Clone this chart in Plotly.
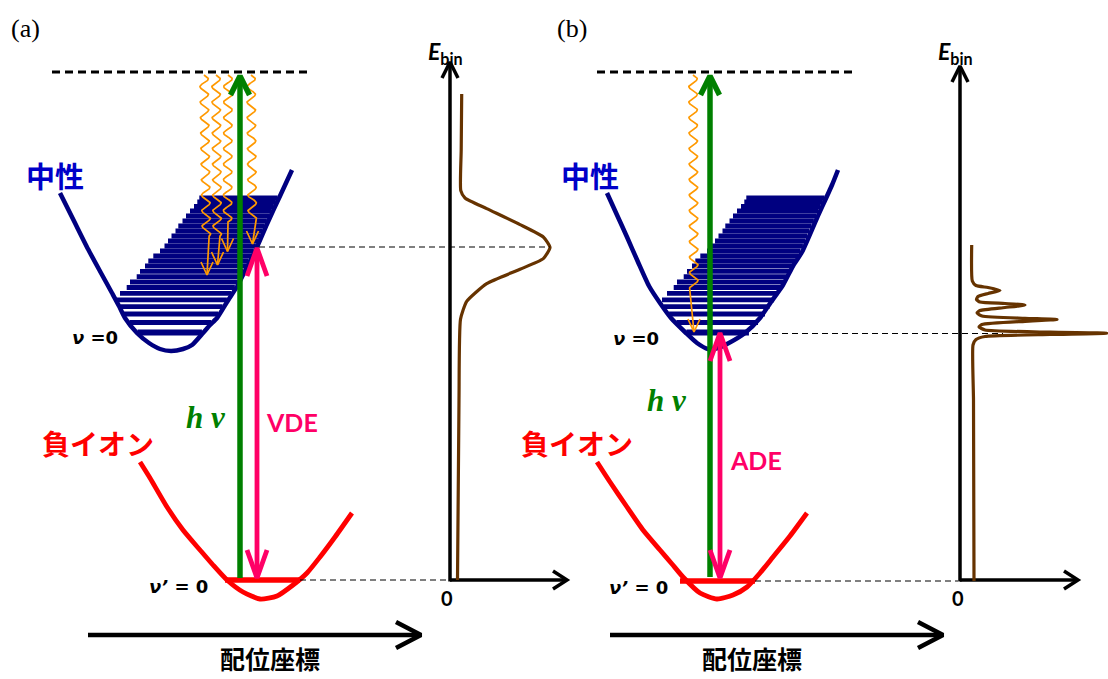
import numpy as np
import plotly.graph_objects as go

W, H = 1108, 679

# ---------------- data (pixel coordinates) ----------------
# Panel (a) neutral potential curve
neutral_a_left_x = [60, 74, 88, 101, 112, 119, 125, 137, 149, 160, 171]
neutral_a_left_y = [193, 221, 249, 273, 293, 306, 318, 333, 343, 349, 351]
neutral_a_right_x = [171, 183, 192, 203, 210, 217, 227, 238, 243, 257, 267, 280, 292]
neutral_a_right_y = [351, 349, 345, 333, 325, 318, 302, 285, 275, 247, 224, 196, 170]
# Panel (b) neutral potential curve
neutral_b_left_x = [607, 617, 627, 638, 649, 660, 671, 686, 697, 708]
neutral_b_left_y = [193, 215, 237, 262, 286, 303, 318, 333, 343, 349]
neutral_b_right_x = [708, 718, 727, 745, 760, 771, 783, 793, 802, 817, 832, 838]
neutral_b_right_y = [349, 348, 344, 333, 318, 302, 285, 266, 252, 218, 185, 170]

# Anion potential curves
anion_a_x = [140, 150, 167, 183, 200, 213, 227, 243, 260, 277, 293, 307, 320, 335, 352]
anion_a_y = [462, 478, 507, 530, 550, 565, 580, 592, 599, 596, 585, 573, 557, 537, 513]
anion_b_x = [597, 610, 627, 643, 660, 672, 683, 700, 717, 733, 747, 760, 773, 790, 807]
anion_b_y = [462, 482, 507, 530, 550, 564, 577, 593, 599, 595, 587, 573, 557, 536, 513]
anion_v0_a = [225, 300, 580]   # x0, x1, y
anion_v0_b = [680, 755, 581]

# Vibrational levels of the neutral (y) and their left edges in panel (a)
level_y = [332.5, 322.5, 314, 306.7, 299.8, 293.3, 287.5, 282, 276.7, 271.3, 266, 261,
           256, 251, 246, 241, 236, 231, 226, 221, 216, 211, 206.5, 202, 198]
level_left_a = [130, 122, 117, 115, 115, 120, 126.7, 130, 136.7, 140, 145, 148.3,
                153.3, 160, 164.5, 168, 171.5, 175.5, 178.3, 182.5, 186, 190, 194, 197.3, 199.3]
level_shift_b = 547

# Photoelectron spectra
spec_a_x = [461.7, 461.2, 460.8, 465, 486.7, 520, 543.3, 550, 543.3, 520, 486.7, 466.7, 460.5, 459, 457.5]
spec_a_y = [94, 150, 190.7, 198, 208.6, 224.6, 237, 247.5, 258.6, 269.3, 283.6, 301.4, 319.3, 400, 580]
spec_b_x = [971.7, 972.3, 976, 988, 1000, 988, 978, 976.5, 980, 1005, 1025, 1005, 980, 977, 982,
            1025, 1057, 1025, 982, 979, 985, 1050, 1107, 1050, 985, 976, 973, 973.5, 974]
spec_b_y = [245, 281, 285.5, 287.5, 290.5, 293.5, 296.5, 299.5, 302, 303.5, 305, 307.5, 310.5, 313, 316,
            318.3, 319.5, 321.3, 324.5, 327, 330, 332.2, 333.2, 334.5, 336.5, 339.5, 345, 400, 581]

# Vertical transitions (x, bottom y, top y)
green_a = [240, 578, 76]
pink_a = [257, 578, 248]
green_b = [710, 577, 76]
pink_b = [720, 578, 333]

# Relaxation (wavy) arrows: start x, tip x, end of wave y, tip y
relax_a_x0 = [204, 216, 228, 251]
relax_a_x1 = [207, 217.5, 227.5, 252.5]
relax_a_wave_end = [236, 236, 222, 218]
relax_a_tip_y = [275, 265, 251.5, 244]
relax_b_x0 = [693]
relax_b_x1 = [694]
relax_b_wave_end = [288]
relax_b_tip_y = [332]

# Axis geometry for the spectra and the coordinate arrows
spec_axis_a = [450, 580, 62, 567]   # x, y of origin, top y, right x
spec_axis_b = [960, 580, 66, 1078]
coord_arrow_a = [88, 421, 635]
coord_arrow_b = [610, 943, 635]
top_dash_a = [52, 308, 72]
top_dash_b = [597, 855, 72]

NAVY = "#000080"
RED = "#FF0000"
GREEN = "#008000"
PINK = "#FF0066"
ORANGE = "#FF9900"
BROWN = "#663300"
BLUE_TXT = "#0000C8"

fig = go.Figure()


def line(xs, ys, color, width, dash=None, shape="linear", smoothing=1.0):
    ln = dict(color=color, width=width)
    if dash:
        ln["dash"] = dash
    if shape == "spline":
        ln["shape"] = "spline"
        ln["smoothing"] = smoothing
    fig.add_trace(go.Scatter(x=xs, y=ys, mode="lines", line=ln, hoverinfo="skip",
                             showlegend=False, connectgaps=False))


def arrow_up(x, y_bottom, y_top, color, width, hw, hl):
    line([x, x], [y_bottom, y_top + 2], color, width)
    line([x - hw, x, x + hw], [y_top + hl, y_top, y_top + hl], color, width)


def arrow_right(x0, x1, y, color, width, hl, hw):
    line([x0, x1 - 2], [y, y], color, width)
    line([x1 - hl, x1, x1 - hl], [y - hw, y, y + hw], color, width)


def panel(nlx, nly, nrx, nry, shift, anion_x, anion_y, v0, green, pink,
          rx0, rx1, rwe, rty, top_dash, axis, spec_x, spec_y, coord):
    # vibrational level bars: the stack of panel (a), shifted, clipped by the left branch
    ry_a = neutral_a_right_y[::-1]
    rx_a = neutral_a_right_x[::-1]
    bx, by = [], []
    for yv, lft in zip(level_y, level_left_a):
        right = np.interp(yv, ry_a, rx_a) - 1.5 + shift
        left_branch = np.interp(yv, nly, nlx) + 1.0
        left = max(lft + shift, left_branch)
        bx += [left, right, None]
        by += [yv, yv, None]
    line(bx[:3], by[:3], NAVY, 6)
    line(bx[3:], by[3:], NAVY, 4.8)
    # neutral curve
    line(nlx + nrx[1:], nly + nry[1:], NAVY, 4.5, shape="spline", smoothing=0.6)
    # top dashed line
    line([top_dash[0], top_dash[1]], [top_dash[2], top_dash[2]], "black", 3, dash="8px,5px")
    # relaxation wavy arrows
    for x0, x1, we, ty in zip(rx0, rx1, rwe, rty):
        y0 = top_dash[2] + 3
        ys = np.linspace(y0, we, 400)
        frac = (ys - y0) / (ty - y0)
        xs = x0 + (x1 - x0) * frac + 4.2 * np.sin(2 * np.pi * (ys - y0) / 15.5)
        xs = list(xs) + [x1]
        ys = list(ys) + [ty]
        line(xs, ys, ORANGE, 1.7)
        line([x1 - 6, x1, x1 + 6], [ty - 13, ty, ty - 13], ORANGE, 1.7)
    # anion curve and v'=0
    line(anion_x, anion_y, RED, 4.8, shape="spline", smoothing=0.6)
    line([v0[0], v0[1]], [v0[2], v0[2]], RED, 5.5)
    # green photon arrow
    arrow_up(green[0], green[1], green[2], GREEN, 5.5, 9.5, 19)
    # pink arrow (double headed)
    line([pink[0], pink[0]], [pink[1] - 2, pink[2] + 2], PINK, 4.8)
    line([pink[0] - 10, pink[0], pink[0] + 10], [pink[1] - 28, pink[1], pink[1] - 28], PINK, 4.8)
    line([pink[0] - 10, pink[0], pink[0] + 10], [pink[2] + 28, pink[2], pink[2] + 28], PINK, 4.8)
    # spectrum axes
    ax_x, ax_y, ax_top, ax_right = axis
    arrow_up(ax_x, ax_y + 1.5, ax_top, "black", 3.5, 8, 16)
    arrow_right(ax_x, ax_right, ax_y, "black", 3.5, 14, 9)
    # spectrum
    line(spec_x, spec_y, BROWN, 3.2, shape="spline", smoothing=0.5)
    # coordinate arrow
    arrow_right(coord[0], coord[1], coord[2], "black", 4.5, 25, 13)


panel(neutral_a_left_x, neutral_a_left_y, neutral_a_right_x, neutral_a_right_y, 0,
      anion_a_x, anion_a_y, anion_v0_a, green_a, pink_a,
      relax_a_x0, relax_a_x1, relax_a_wave_end, relax_a_tip_y, top_dash_a, spec_axis_a,
      spec_a_x, spec_a_y, coord_arrow_a)
panel(neutral_b_left_x, neutral_b_left_y, neutral_b_right_x, neutral_b_right_y, level_shift_b,
      anion_b_x, anion_b_y, anion_v0_b, green_b, pink_b,
      relax_b_x0, relax_b_x1, relax_b_wave_end, relax_b_tip_y, top_dash_b, spec_axis_b,
      spec_b_x, spec_b_y, coord_arrow_b)

# thin dashed guide lines
line([pink_a[0] + 2, 550], [247, 247], "black", 1.2, dash="6px,4px")
line([anion_v0_a[1], spec_axis_a[0] - 2], [580, 580], "black", 1.2, dash="6px,4px")
line([752, 1003], [333.5, 333.5], "black", 1.2, dash="6px,4px")
line([anion_v0_b[1], spec_axis_b[0] - 2], [581, 581], "black", 1.2, dash="6px,4px")

CJK = "Noto Sans CJK JP"
SANS = "Lato, Noto Sans, sans-serif"
GREEK = "DejaVu Sans, Noto Sans, sans-serif"
SERIF = "Liberation Serif, DejaVu Serif, serif"

ann = []


def text(x, y, s, size, color="black", family=SANS, xanchor="center", yanchor="middle"):
    ann.append(dict(x=x, y=y, xref="x", yref="y", text=s, showarrow=False,
                    xanchor=xanchor, yanchor=yanchor,
                    font=dict(family=family, size=size, color=color)))


for dx, lab in [(0, "(a)"), (547, "(b)")]:
    text(25 + dx, 28, lab, 26, family=SERIF)

# panel (a) labels
text(55, 175, "<b>中性</b>", 29, BLUE_TXT, CJK)
text(98, 443, "<b>負イオン</b>", 28, RED, CJK)
text(206, 417, "<b><i>h ν</i></b>", 31, GREEN, SERIF)
text(292, 422, "<b>VDE</b>", 25, PINK)
text(95, 337, "<b><i>ν</i> =0</b>", 18, "black", GREEK)
text(178, 586, "<b><i>ν’</i> = 0</b>", 18, "black", GREEK)
text(270, 678, "<b>配位座標</b>", 25, "black", CJK, yanchor="bottom")
text(447, 598, "<b>0</b>", 20)
text(445, 52, "<b><i>E</i></b><b><sub>bin</sub></b>", 23)

# panel (b) labels
text(590, 175, "<b>中性</b>", 29, BLUE_TXT, CJK)
text(577, 443, "<b>負イオン</b>", 28, RED, CJK)
text(667, 400, "<b><i>h ν</i></b>", 31, GREEN, SERIF)
text(756, 460, "<b>ADE</b>", 25, PINK)
text(636, 338, "<b><i>ν</i> =0</b>", 18, "black", GREEK)
text(638, 587, "<b><i>ν’</i> = 0</b>", 18, "black", GREEK)
text(752, 678, "<b>配位座標</b>", 25, "black", CJK, yanchor="bottom")
text(958, 598, "<b>0</b>", 20)
text(955, 52, "<b><i>E</i></b><b><sub>bin</sub></b>", 23)

fig.update_layout(
    width=W, height=H, autosize=False,
    margin=dict(l=0, r=0, t=0, b=0, pad=0),
    paper_bgcolor="white", plot_bgcolor="white",
    xaxis=dict(range=[0, W], visible=False, fixedrange=True),
    yaxis=dict(range=[H, 0], visible=False, fixedrange=True),
    annotations=ann, hovermode=False, showlegend=False,
)

fig.write_html("out.html", config={"displayModeBar": False})
